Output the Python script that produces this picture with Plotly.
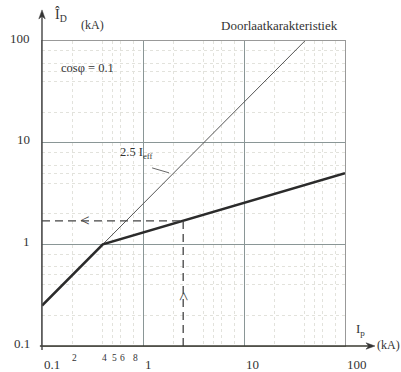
import numpy as np
import plotly.graph_objects as go

# ---- data ----
ip_thin = [0.4, 40.0]          # 2.5 I_eff line (I_p, kA)
id_thin = [1.0, 100.0]
ip_thick = [0.1, 0.4, 100.0]   # let-through characteristic
id_thick = [0.25, 1.0, 5.0]
ip_sel = 2.5                   # example prospective current
id_sel = 1.7                   # resulting let-through current
major_ticks = [0.1, 1, 10, 100]
major_labels = ["0.1", "1", "10", "100"]
minor_x = [0.2, 0.4, 0.5, 0.6, 0.8]
minor_x_labels = ["2", "4", "5", "6", "8"]
minor_grid = [m * d for d in (0.1, 1, 10) for m in (2, 4, 5, 6, 8)]
leader_ip = [1.23, 1.81]
leader_id = [5.65, 5.05]

FONT = "Liberation Serif, Times New Roman, serif"
TXT = "#333333"

fig = go.Figure()

fig.add_trace(go.Scatter(x=ip_thin, y=id_thin, mode="lines",
                         line=dict(color="#555555", width=1), hoverinfo="skip"))
fig.add_trace(go.Scatter(x=ip_thick, y=id_thick, mode="lines",
                         line=dict(color="#2b2b2b", width=2.6), hoverinfo="skip"))
fig.add_trace(go.Scatter(x=[major_ticks[0], ip_sel], y=[id_sel, id_sel], mode="lines",
                         line=dict(color="#444444", width=1.3, dash="8px,5px"), hoverinfo="skip"))
fig.add_trace(go.Scatter(x=[ip_sel, ip_sel], y=[major_ticks[0], id_sel], mode="lines",
                         line=dict(color="#444444", width=1.3, dash="8px,5px"), hoverinfo="skip"))
fig.add_trace(go.Scatter(x=leader_ip, y=leader_id, mode="lines",
                         line=dict(color="#555555", width=0.9), hoverinfo="skip"))

# axis lines with arrowheads (paper coordinates, extending past the plot area)
xt, yt = 1.099, 1.102
dxw, dyw = 9 / 303, 9 / 305
dxh, dyh = 3.2 / 303, 3.2 / 305
shapes = [
    dict(type="line", xref="paper", yref="paper", x0=-0.007, x1=xt - 0.01, y0=0, y1=0,
         line=dict(color="#3a3a30", width=1.4)),
    dict(type="line", xref="paper", yref="paper", x0=0, x1=0, y0=-0.013, y1=yt - 0.01,
         line=dict(color="#444444", width=1.4)),
    dict(type="path", xref="paper", yref="paper",
         path=f"M {xt},0 L {xt - dxw},{dyh} L {xt - dxw * 0.7},0 L {xt - dxw},{-dyh} Z",
         fillcolor="#333", line=dict(color="#333", width=0.5)),
    dict(type="path", xref="paper", yref="paper",
         path=f"M 0,{yt} L {dxh},{yt - dyw} L 0,{yt - dyw * 0.7} L {-dxh},{yt - dyw} Z",
         fillcolor="#333", line=dict(color="#333", width=0.5)),
]

ann = []
ann.append(dict(x=np.log10(0.266), y=np.log10(id_sel), xref="x", yref="y", text="&lt;",
                xanchor="center", yanchor="middle",
                showarrow=False, font=dict(family=FONT, size=17, color="#444")))
ann.append(dict(x=np.log10(ip_sel), y=np.log10(0.305), xref="x", yref="y", text="&lt;",
                xanchor="center", yanchor="middle",
                textangle=90, showarrow=False, font=dict(family=FONT, size=17, color="#444")))

for v, lab in zip(major_ticks, major_labels):
    ann.append(dict(x=0, y=np.log10(v), xref="paper", yref="y", text=lab, xanchor="right",
                    yanchor="middle", xshift=-10, yshift=3, showarrow=False,
                    font=dict(family=FONT, size=13, color=TXT)))
for v, lab in zip(major_ticks, major_labels):
    ann.append(dict(x=np.log10(v), y=0, xref="x", yref="paper", text=lab, xanchor="left",
                    yanchor="middle", xshift=0, yshift=-18, showarrow=False,
                    font=dict(family=FONT, size=13, color=TXT)))
for v, lab in zip(minor_x, minor_x_labels):
    ann.append(dict(x=np.log10(v), y=0, xref="x", yref="paper", text=lab, xanchor="center",
                    yanchor="middle", xshift=2, yshift=-12, showarrow=False,
                    font=dict(family=FONT, size=9.5, color=TXT)))

def txt(x, y, s, size, xref="paper", yref="paper"):
    ann.append(dict(x=x, y=y, xref=xref, yref=yref, text=s, xanchor="center", yanchor="middle",
                    showarrow=False, font=dict(family=FONT, size=size, color=TXT)))

txt(0.062, 1.085, "Î<sub>D</sub>", 14)
txt(0.168, 1.052, "(kA)", 12)
txt(0.785, 1.052, "Doorlaatkarakteristiek", 13)
txt(np.log10(0.285), np.log10(54), "cosφ = 0.1", 12.5, "x", "y")
txt(-0.069, 0.9, "2.5 I<sub>eff</sub>", 12.5, "x", "y")
txt(1.05, 0.055, "I<sub>p</sub>", 13)
txt(1.145, 0.003, "(kA)", 12)

axis_common = dict(type="log", range=[-1, 2], tickvals=major_ticks, showticklabels=False,
                   ticks="", showgrid=True, gridcolor="#8a9696", gridwidth=1,
                   zeroline=False, showline=True, mirror=True, linecolor="#999999", linewidth=1,
                   minor=dict(tickvals=minor_grid, showgrid=True, gridcolor="#e2e2dc",
                              griddash="dot", gridwidth=1, ticks=""))

fig.update_layout(
    width=401, height=372,
    margin=dict(l=42, r=56, t=41, b=26),
    paper_bgcolor="white", plot_bgcolor="white",
    showlegend=False,
    xaxis=axis_common,
    yaxis=axis_common,
    annotations=ann,
    shapes=shapes,
)

fig.write_html("out.html", config={"displayModeBar": False},
               post_script="document.body.style.margin='0px';")
